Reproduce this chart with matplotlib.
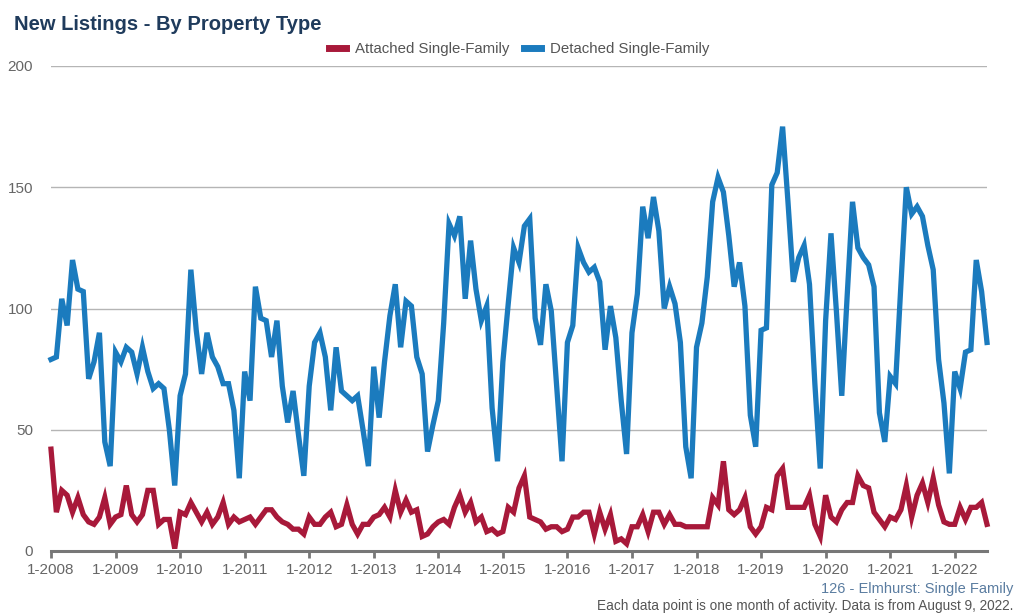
import numpy as np
import matplotlib
matplotlib.use('Agg')
import matplotlib.pyplot as plt
from matplotlib.lines import Line2D

plt.rcParams['font.family'] = ['Liberation Sans', 'DejaVu Sans']

# monthly new listings, 1-2008 .. 7-2022
attached = [
    42, 16, 25, 23, 16, 22, 15, 12, 11, 14, 22, 11,   # 2008
    14, 15, 27, 15, 12, 15, 25, 25, 11, 13, 13, 1,    # 2009
    16, 15, 20, 16, 12, 16, 11, 14, 20, 11, 14, 12,   # 2010
    13, 14, 11, 14, 17, 17, 14, 12, 11, 9, 9, 7,      # 2011
    14, 11, 11, 14, 16, 10, 11, 19, 11, 7, 11, 11,    # 2012
    14, 15, 18, 14, 25, 16, 21, 16, 17, 6, 7, 10,     # 2013
    12, 13, 11, 18, 23, 16, 20, 12, 14, 8, 9, 7,      # 2014
    8, 18, 16, 26, 31, 14, 13, 12, 9, 10, 10, 8,      # 2015
    9, 14, 14, 16, 16, 7, 16, 9, 15, 4, 5, 3,         # 2016
    10, 10, 15, 8, 16, 16, 11, 15, 11, 11, 10, 10,    # 2017
    10, 10, 10, 22, 19, 37, 17, 15, 17, 22, 10, 7,    # 2018
    10, 18, 17, 31, 34, 18, 18, 18, 18, 23, 11, 6,    # 2019
    23, 14, 12, 17, 20, 20, 31, 27, 26, 16, 13, 10,   # 2020
    14, 13, 17, 27, 14, 23, 28, 20, 30, 19, 12, 11,   # 2021
    11, 18, 13, 18, 18, 20, 11,                       # 2022
]
detached = [
    79, 80, 104, 93, 120, 108, 107, 71, 78, 90, 45, 35,
    82, 78, 84, 82, 73, 84, 74, 67, 69, 67, 50, 27,
    64, 73, 116, 91, 73, 90, 80, 76, 69, 69, 58, 30,
    74, 62, 109, 96, 95, 80, 95, 68, 53, 66, 48, 31,
    68, 86, 90, 80, 58, 84, 66, 64, 62, 64, 50, 35,
    76, 55, 78, 97, 110, 84, 103, 101, 80, 73, 41, 52,
    62, 94, 135, 130, 138, 104, 128, 108, 95, 101, 59, 37,
    78, 102, 125, 119, 134, 137, 96, 85, 110, 99, 68, 37,
    86, 93, 125, 119, 115, 117, 111, 83, 101, 88, 62, 40,
    90, 106, 142, 129, 146, 132, 100, 109, 102, 86, 43, 30,
    84, 94, 113, 144, 154, 148, 130, 109, 119, 101, 56, 43,
    91, 92, 151, 156, 175, 144, 111, 121, 126, 110, 69, 34,
    95, 131, 99, 64, 105, 144, 125, 121, 118, 109, 57, 45,
    72, 69, 110, 150, 139, 142, 138, 126, 116, 79, 61, 32,
    74, 67, 82, 83, 120, 107, 86,
]
years = list(range(2008, 2023))
tick_labels = ['1-%d' % y for y in years]
series_names = ['Attached Single-Family', 'Detached Single-Family']
red = '#A8193A'
blue = '#1B7BBE'

months = np.arange(len(detached))

fig = plt.figure(figsize=(10.24, 6.16), dpi=100)
ax = fig.add_axes([51/1024, 1-551/616, (987-51)/1024, (551-66)/616])

ax.plot(months, attached, color=red, lw=3.8, solid_joinstyle='miter', clip_on=False, zorder=3)
ax.plot(months, detached, color=blue, lw=3.8, solid_joinstyle='miter', clip_on=False, zorder=3)

ax.set_xlim(0, len(detached) - 1)
ax.set_ylim(0, 200)
ax.set_yticks([0, 50, 100, 150, 200])
ax.set_xticks(np.arange(len(years)) * 12)
ax.set_xticklabels(tick_labels)
ax.grid(axis='y', color='#b5b5b5', lw=1.0)
ax.set_axisbelow(True)
for s in ['top', 'right', 'left']:
    ax.spines[s].set_visible(False)
ax.spines['bottom'].set_color('#777777')
ax.spines['bottom'].set_linewidth(2.2)
ax.tick_params(axis='x', colors='#777777', length=5, width=2, labelsize=11,
               labelcolor='#666666', pad=4)
ax.tick_params(axis='y', length=0, labelsize=11, labelcolor='#666666', pad=13)

fig.text(14/1024, 1-25/616, 'New Listings - By Property Type', fontsize=14.5,
         fontweight='bold', color='#1F3B5C', va='center', ha='left')

handles = [Line2D([], [], color=red, lw=5), Line2D([], [], color=blue, lw=5)]
fig.legend(handles, series_names, loc='center', bbox_to_anchor=(519/1024, 1-49/616),
           ncol=2, frameon=False, fontsize=10.8, handlelength=1.1, handletextpad=0.6,
           columnspacing=1.0, labelcolor='#555555')

fig.text(1013/1024, 1-589/616, '126 - Elmhurst: Single Family', fontsize=10.5,
         color='#5A7CA0', ha='right', va='center')
fig.text(1013/1024, 1-606/616,
         'Each data point is one month of activity. Data is from August 9, 2022.',
         fontsize=9.8, color='#555555', ha='right', va='center')

fig.savefig('out.png', dpi=100)
